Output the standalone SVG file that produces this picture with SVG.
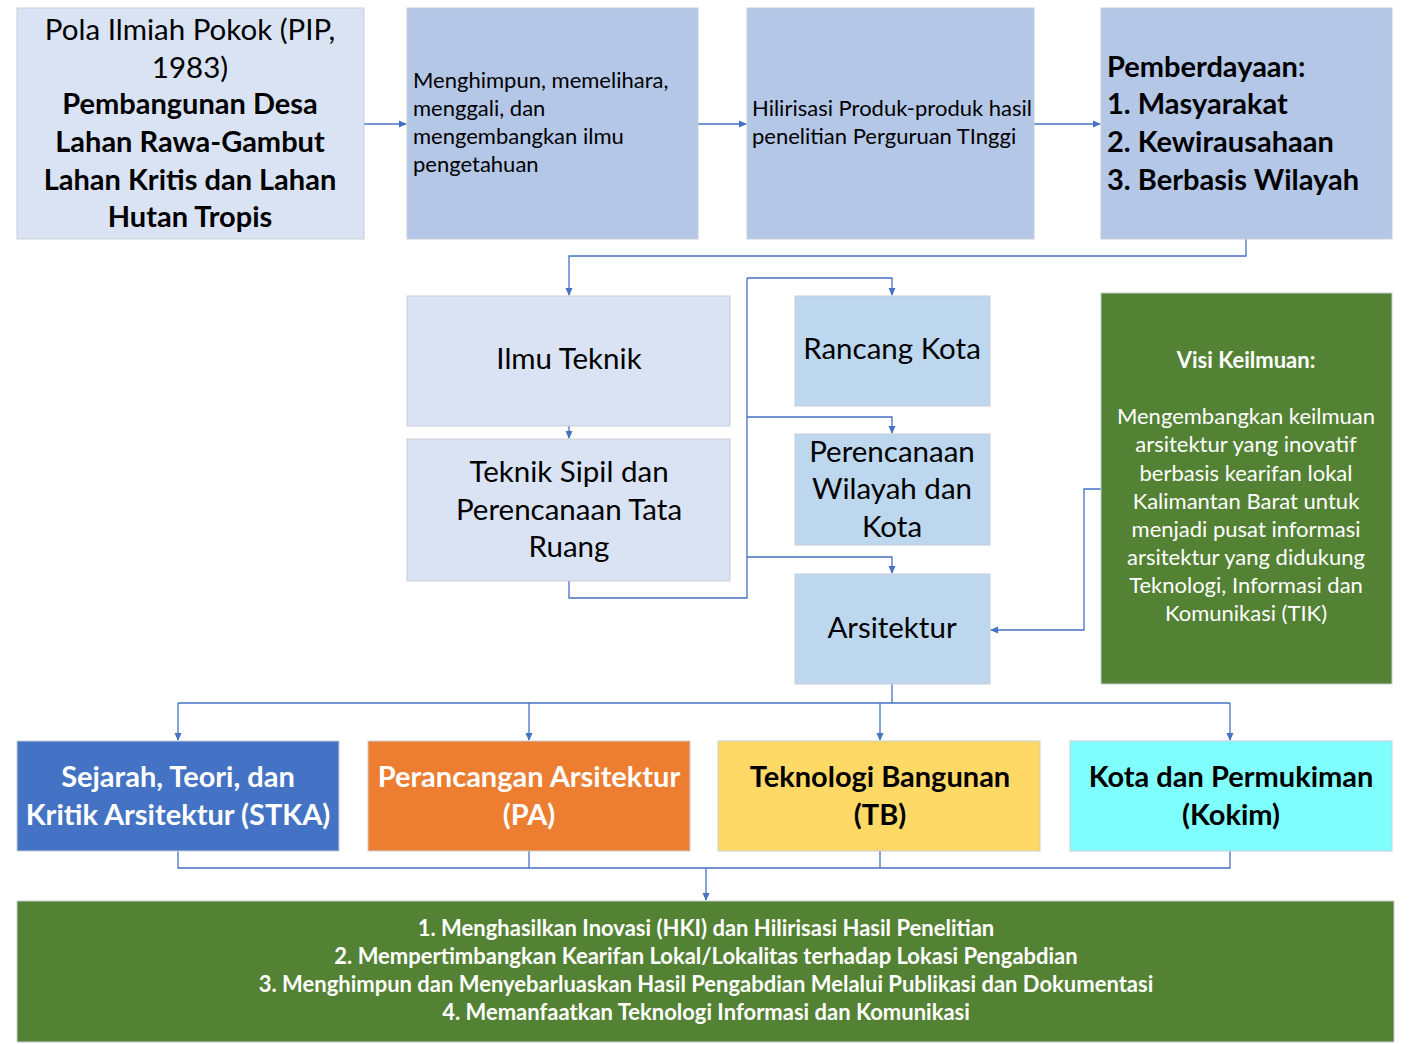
<svg xmlns="http://www.w3.org/2000/svg" width="1411" height="1044" viewBox="0 0 1411 1044">
<style>
text{font-family:Lato,"Open Sans","Liberation Sans",sans-serif;fill:#000}
.box{stroke:#c8cdd6;stroke-width:1}
.l1{fill:#dae3f3}.l2{fill:#b4c7e7}.l3{fill:#bdd7ee}.gr{fill:#548235}
.big{font-size:29.5px}.bb{font-size:29px;font-weight:bold}.sm{font-size:22px}.b{font-weight:bold}
.c{text-anchor:middle}.w{fill:#fff}
.cn{fill:none;stroke:#4472c4;stroke-width:1.3;marker-end:url(#ah)}
.cl{fill:none;stroke:#4472c4;stroke-width:1.3}
</style>
<defs><marker id="ah" markerWidth="8" markerHeight="8" refX="7" refY="4" orient="auto" markerUnits="userSpaceOnUse"><path d="M0,0.5 L8,4 L0,7.5 z" fill="#4472c4"/></marker></defs>
<rect width="1411" height="1044" fill="#fff"/>
<g id="connectors">
<path class="cn" d="M364,124 H406"/>
<path class="cn" d="M698,124 H746"/>
<path class="cn" d="M1034,124 H1100"/>
<path class="cn" d="M1246,239 V256 H569 V295"/>
<path class="cn" d="M569,426 V438"/>
<path class="cl" d="M569,581 V598 H747 V278"/>
<path class="cn" d="M747,278 H892 V295"/>
<path class="cn" d="M747,417 H892 V433"/>
<path class="cn" d="M747,557 H892 V573"/>
<path class="cn" d="M1101,489 H1084 V630 H991"/>
<path class="cl" d="M892,684 V703"/>
<path class="cl" d="M178,703 H1230"/>
<path class="cn" d="M178,703 V740"/>
<path class="cn" d="M529,703 V740"/>
<path class="cn" d="M880,703 V740"/>
<path class="cn" d="M1230,703 V740"/>
<path class="cl" d="M178,851 V868 H1230 V851"/>
<path class="cl" d="M529,851 V868"/>
<path class="cl" d="M880,851 V868"/>
<path class="cn" d="M706,868 V900"/>
</g>
<g id="pip"><rect class="box l1" x="17" y="8" width="347" height="231"/>
<text class="big c" x="190" y="40">Pola Ilmiah Pokok (PIP,</text>
<text class="big c" x="190" y="78">1983)</text>
<text class="bb c" x="190" y="114">Pembangunan Desa</text>
<text class="bb c" x="190" y="152">Lahan Rawa-Gambut</text>
<text class="bb c" x="190" y="190">Lahan Kritis dan Lahan</text>
<text class="bb c" x="190" y="227">Hutan Tropis</text></g>
<g id="menghimpun"><rect class="box l2" x="407" y="8" width="291" height="231"/>
<text class="sm" x="413" y="88">Menghimpun, memelihara,</text>
<text class="sm" x="413" y="116">menggali, dan</text>
<text class="sm" x="413" y="144">mengembangkan ilmu</text>
<text class="sm" x="413" y="172">pengetahuan</text></g>
<g id="hilirisasi"><rect class="box l2" x="747" y="8" width="287" height="231"/>
<text class="sm" x="752" y="116">Hilirisasi Produk-produk hasil</text>
<text class="sm" x="752" y="144">penelitian Perguruan TInggi</text></g>
<g id="pemberdayaan"><rect class="box l2" x="1101" y="8" width="291" height="231"/>
<text class="bb" x="1107" y="77">Pemberdayaan:</text>
<text class="bb" x="1107" y="114">1. Masyarakat</text>
<text class="bb" x="1107" y="152">2. Kewirausahaan</text>
<text class="bb" x="1107" y="190">3. Berbasis Wilayah</text></g>
<g id="ilmu-teknik"><rect class="box l1" x="407" y="296" width="323" height="130"/>
<text class="big c" x="569" y="369">Ilmu Teknik</text></g>
<g id="teknik-sipil"><rect class="box l1" x="407" y="439" width="323" height="142"/>
<text class="big c" x="569" y="482">Teknik Sipil dan</text>
<text class="big c" x="569" y="520">Perencanaan Tata</text>
<text class="big c" x="569" y="557">Ruang</text></g>
<g id="rancang-kota"><rect class="box l3" x="795" y="296" width="195" height="110"/>
<text class="big c" x="892" y="359">Rancang Kota</text></g>
<g id="pwk"><rect class="box l3" x="795" y="434" width="195" height="111"/>
<text class="big c" x="892" y="462">Perencanaan</text>
<text class="big c" x="892" y="499">Wilayah dan</text>
<text class="big c" x="892" y="537">Kota</text></g>
<g id="arsitektur"><rect class="box l3" x="795" y="574" width="195" height="110"/>
<text class="big c" x="892" y="638">Arsitektur</text></g>
<g id="visi"><rect class="box gr" x="1101" y="293" width="291" height="391"/>
<text class="sm c b w" x="1246" y="368">Visi Keilmuan:</text>
<text class="sm c w" x="1246" y="424">Mengembangkan keilmuan</text>
<text class="sm c w" x="1246" y="452">arsitektur yang inovatif</text>
<text class="sm c w" x="1246" y="481">berbasis kearifan lokal</text>
<text class="sm c w" x="1246" y="509">Kalimantan Barat untuk</text>
<text class="sm c w" x="1246" y="537">menjadi pusat informasi</text>
<text class="sm c w" x="1246" y="565">arsitektur yang didukung</text>
<text class="sm c w" x="1246" y="593">Teknologi, Informasi dan</text>
<text class="sm c w" x="1246" y="621">Komunikasi (TIK)</text></g>
<g id="stka"><rect class="box" fill="#4472c4" x="17" y="741" width="322" height="110"/>
<text class="bb c w" x="178" y="787">Sejarah, Teori, dan</text>
<text class="bb c w" x="178" y="825">Kritik Arsitektur (STKA)</text></g>
<g id="pa"><rect class="box" fill="#ed7d31" x="368" y="741" width="322" height="110"/>
<text class="bb c w" x="529" y="787">Perancangan Arsitektur</text>
<text class="bb c w" x="529" y="825">(PA)</text></g>
<g id="tb"><rect class="box" fill="#ffd966" x="718" y="741" width="322" height="110"/>
<text class="bb c" x="880" y="787">Teknologi Bangunan</text>
<text class="bb c" x="880" y="825">(TB)</text></g>
<g id="kokim"><rect class="box" fill="#80ffff" x="1070" y="741" width="322" height="110"/>
<text class="bb c" x="1231" y="787">Kota dan Permukiman</text>
<text class="bb c" x="1231" y="825">(Kokim)</text></g>
<g id="tujuan"><rect class="box gr" x="17" y="901" width="1377" height="141"/>
<text class="sm c b w" x="706" y="936">1. Menghasilkan Inovasi (HKI) dan Hilirisasi Hasil Penelitian</text>
<text class="sm c b w" x="706" y="964">2. Mempertimbangkan Kearifan Lokal/Lokalitas terhadap Lokasi Pengabdian</text>
<text class="sm c b w" x="706" y="992">3. Menghimpun dan Menyebarluaskan Hasil Pengabdian Melalui Publikasi dan Dokumentasi</text>
<text class="sm c b w" x="706" y="1020">4. Memanfaatkan Teknologi Informasi dan Komunikasi</text></g>
</svg>
